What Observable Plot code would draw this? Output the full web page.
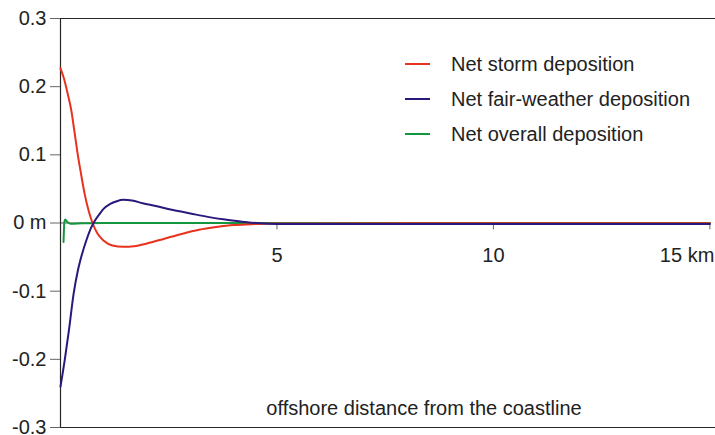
<!DOCTYPE html>
<html>
<head>
<meta charset="utf-8">
<script src="https://cdn.jsdelivr.net/npm/d3@7"></script>
<script src="https://cdn.jsdelivr.net/npm/@observablehq/plot@0.6"></script>
<style>
  html, body { margin: 0; padding: 0; background: #fff; }
  #wrap { position: relative; width: 715px; height: 435px; overflow: hidden; font-family: "Liberation Sans", Arial, sans-serif; }
  #legend { position: absolute; left: 405px; top: 46.5px; }
  .row { display: flex; align-items: center; height: 35px; font-size: 20px; color: #222; white-space: nowrap; }
  .swatch { width: 25px; height: 2px; margin-right: 21px; }
</style>
</head>
<body>
<div id="wrap">
  <div id="chart"></div>
  <div id="legend"></div>
</div>
<script>
// ---- data (km offshore, metres of deposition) ----
const seriesNames = ["Net storm deposition", "Net fair-weather deposition", "Net overall deposition"];
const seriesColors = ["#e8321e", "#2a187c", "#14963f"];

const stormX = [0, 0.08, 0.15, 0.25, 0.32, 0.40, 0.48, 0.56, 0.65, 0.74, 0.85, 1.0, 1.2, 1.45, 1.7, 2.0, 2.4, 2.8, 3.2, 3.6, 4.0, 4.5, 5, 6, 8, 10, 12, 15];
const stormY = [0.227, 0.212, 0.194, 0.165, 0.135, 0.100, 0.070, 0.042, 0.018, 0.0, -0.015, -0.026, -0.033, -0.035, -0.034, -0.030, -0.023, -0.016, -0.010, -0.006, -0.003, -0.0015, -0.0008, -0.0006, -0.0005, -0.0005, -0.0005, -0.0005];

const fairX = [0, 0.1, 0.2, 0.3, 0.4, 0.5, 0.6, 0.7, 0.8, 0.9, 1.0, 1.15, 1.3, 1.45, 1.65, 1.9, 2.2, 2.6, 3.0, 3.4, 3.8, 4.2, 4.6, 5, 6, 8, 10, 12, 15];
const fairY = [-0.24, -0.20, -0.155, -0.105, -0.07, -0.045, -0.025, -0.008, 0.004, 0.013, 0.021, 0.028, 0.032, 0.034, 0.033, 0.029, 0.025, 0.019, 0.014, 0.009, 0.005, 0.002, -0.0005, -0.0015, -0.0015, -0.0015, -0.0015, -0.0015, -0.0015];

const overallX = [0.07, 0.09, 0.11, 0.15, 0.23, 0.5, 1, 2, 4, 6, 8, 10, 12, 15];
const overallY = [-0.028, 0.002, 0.005, 0.002, -0.001, -0.0005, 0, 0, 0, 0, 0, 0, 0, 0];

const xTicks = [5, 10, 15];
const xTickLabels = ["5", "10", "15 km"];
const yTicks = [-0.3, -0.2, -0.1, 0, 0.1, 0.2, 0.3];
const yTickLabels = ["-0.3", "-0.2", "-0.1", "0 m", "0.1", "0.2", "0.3"];
const xLabel = "offshore distance from the coastline";

// ---- build ----
const toRows = (xs, ys) => xs.map((x, i) => ({x, y: ys[i]}));
const storm = toRows(stormX, stormY);
const fair = toRows(fairX, fairY);
const overall = toRows(overallX, overallY);
const xMax = xTicks[xTicks.length - 1];
const yMin = yTicks[0], yMax = yTicks[yTicks.length - 1];

const chart = Plot.plot({
  width: 715,
  height: 435,
  marginLeft: 60,
  marginRight: 0,
  marginTop: 18,
  marginBottom: 8,
  style: {fontFamily: "'Liberation Sans', Arial, sans-serif", fontSize: "20px", color: "#222", background: "#fff", overflow: "visible"},
  x: {domain: [0, 15.13], axis: null},
  y: {domain: [yMin, yMax], axis: null},
  marks: [
    Plot.ruleY([yMin, yMax], {stroke: "#2a2626", strokeWidth: 1.2}),
    Plot.ruleY([0], {x1: 0, x2: xMax, stroke: "#555", strokeWidth: 1}),
    Plot.ruleX([0], {stroke: "#2a2626", strokeWidth: 1.2}),
    Plot.axisY({ticks: yTicks, tickSize: 10, tickPadding: 4, stroke: "#666", fill: "#222", fontSize: 20,
      tickFormat: d => yTickLabels[yTicks.indexOf(d)], label: null}),
    Plot.ruleX(xTicks, {x: d => d, y1: 0, y2: -0.01, stroke: "#666", strokeWidth: 1}),
    Plot.text(xTicks.slice(0, -1), {x: d => d, y: 0, dy: 33, text: d => xTickLabels[xTicks.indexOf(d)], fill: "#222", fontSize: 20}),
    Plot.text(xTicks.slice(-1), {x: d => d, y: 0, dy: 33, dx: -50, textAnchor: "start", text: d => xTickLabels[xTicks.indexOf(d)], fill: "#222", fontSize: 20}),
    Plot.text([xLabel], {frameAnchor: "bottom", dx: 36, dy: -13, text: d => d, fill: "#222", fontSize: 20}),
    Plot.line(overall, {x: "x", y: "y", stroke: seriesColors[2], strokeWidth: 2, curve: "monotone-x"}),
    Plot.line(storm, {x: "x", y: "y", stroke: seriesColors[0], strokeWidth: 2, curve: "monotone-x"}),
    Plot.line(fair, {x: "x", y: "y", stroke: seriesColors[1], strokeWidth: 2, curve: "monotone-x"})
  ]
});
document.getElementById("chart").appendChild(chart);

const legend = document.getElementById("legend");
seriesNames.forEach((name, i) => {
  const row = document.createElement("div");
  row.className = "row";
  const sw = document.createElement("div");
  sw.className = "swatch";
  sw.style.background = seriesColors[i];
  const t = document.createElement("span");
  t.textContent = name;
  row.appendChild(sw);
  row.appendChild(t);
  legend.appendChild(row);
});
</script>
</body>
</html>
